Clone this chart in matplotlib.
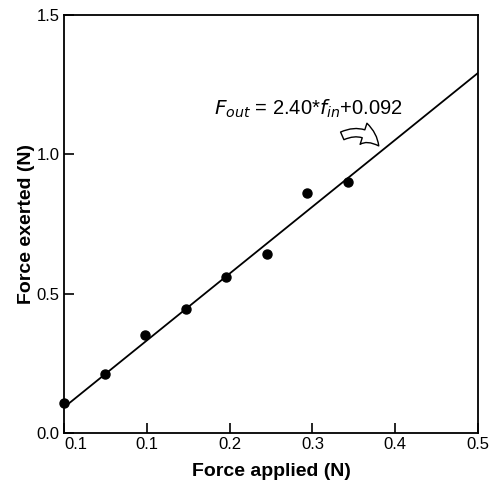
import matplotlib.pyplot as plt
import numpy as np

plt.rcParams['font.family'] = ['Liberation Sans', 'DejaVu Sans']

# measured points
force_applied = [0.0, 0.049, 0.098, 0.147, 0.196, 0.245, 0.294, 0.343]
force_exerted = [0.108, 0.212, 0.352, 0.445, 0.560, 0.642, 0.861, 0.900]

# linear fit shown in the figure
slope = 2.40
intercept = 0.092

x_ticks = [0.0, 0.1, 0.2, 0.3, 0.4, 0.5]
x_tick_labels = ['0.1', '0.1', '0.2', '0.3', '0.4', '0.5']
y_ticks = [0.0, 0.5, 1.0, 1.5]
y_tick_labels = ['0.0', '0.5', '1.0', '1.5']

fig = plt.figure(figsize=(4.96, 4.90), dpi=100)
ax = fig.add_axes([64 / 496, 57 / 490, 414 / 496, 418 / 490])

xs = np.array([0.0, 0.5])
ax.plot(xs, slope * xs + intercept, color='black', lw=1.3)
ax.plot(force_applied, force_exerted, 'o', color='black', ms=6.5, clip_on=False, zorder=3)

ax.set_xlim(0, 0.5)
ax.set_ylim(0, 1.5)
ax.set_xticks(x_ticks)
ax.set_xticklabels(x_tick_labels, fontsize=12)
ax.get_xticklabels()[0].set_horizontalalignment('left')
ax.set_yticks(y_ticks)
ax.set_yticklabels(y_tick_labels, fontsize=12)
ax.tick_params(direction='in', length=7, width=1.2, pad=3)
for s in ax.spines.values():
    s.set_linewidth(1.3)

ax.set_xlabel('Force applied (N)', fontsize=14, fontweight='bold', labelpad=8)
ax.set_ylabel('Force exerted (N)', fontsize=14, fontweight='bold', labelpad=1)

ax.text(0.4094, 1.141, r'$F_{out}$ = 2.40*$f_{in}$+0.092', fontsize=14.5,
        ha='right', va='baseline', math_fontfamily='dejavusans')
ax.annotate('', xy=(0.382, 1.022), xytext=(0.333, 1.062),
            arrowprops=dict(arrowstyle='simple,head_length=0.7,head_width=0.8,tail_width=0.3',
                            mutation_scale=20,
                            fc='white', ec='black', lw=1.0,
                            connectionstyle='arc3,rad=-0.45'))

fig.savefig('out.png', dpi=100)
